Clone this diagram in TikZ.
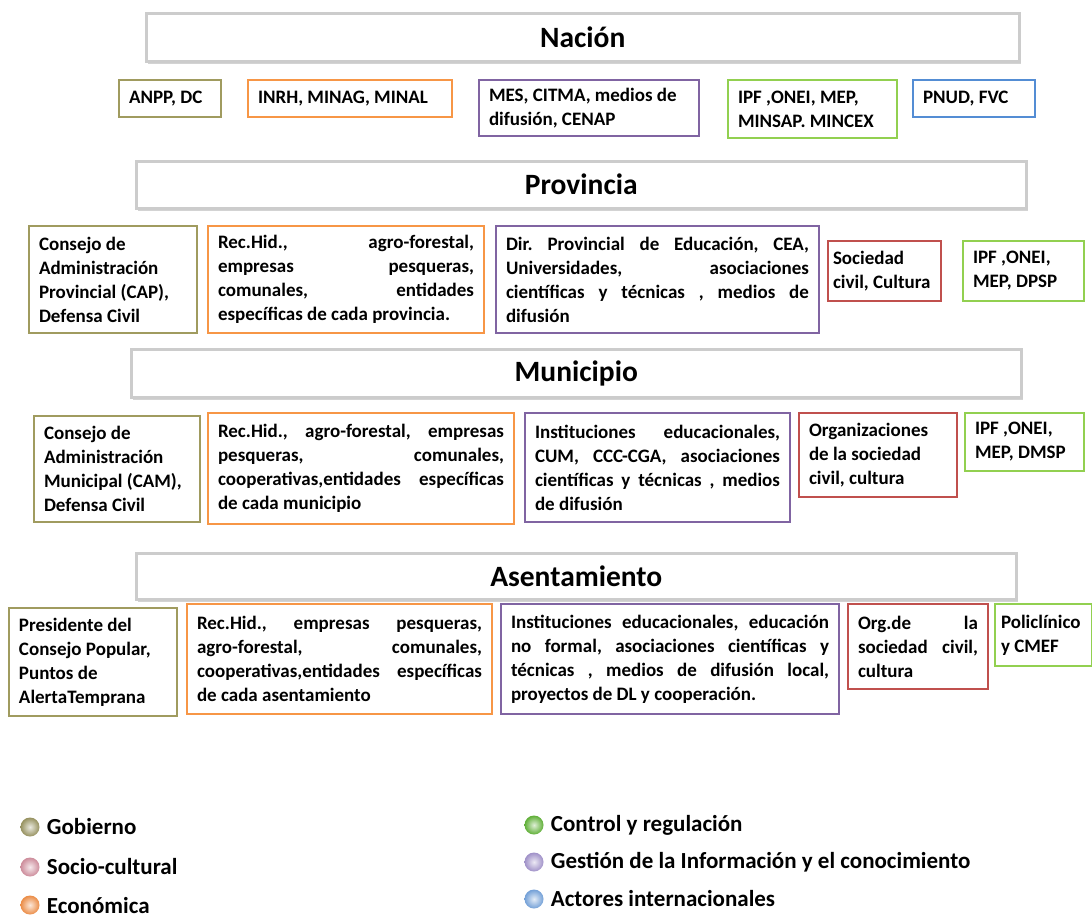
\documentclass[tikz,border=0pt]{standalone}
\usepackage{fontspec}
\setmainfont{Carlito}
\usepackage{tikz}
\usetikzlibrary{positioning,shadows}

\definecolor{gobcol}{RGB}{160,155,95}
\definecolor{ecocol}{RGB}{247,150,70}
\definecolor{infcol}{RGB}{128,100,162}
\definecolor{ctlcol}{RGB}{146,208,80}
\definecolor{intcol}{RGB}{84,141,212}
\definecolor{soccol}{RGB}{192,80,77}
\definecolor{gobball}{RGB}{150,145,95}
\definecolor{socball}{RGB}{205,140,155}
\definecolor{ecoball}{RGB}{235,140,70}
\definecolor{ctlball}{RGB}{95,175,55}
\definecolor{infball}{RGB}{160,145,200}
\definecolor{intball}{RGB}{115,160,215}

\hyphenpenalty=10000
\exhyphenpenalty=10000
\frenchspacing

\tikzset{
  bar/.style={draw=gray!40, line width=2.5pt, fill=white, anchor=north west, inner sep=0pt,
    drop shadow={shadow xshift=1.5pt, shadow yshift=-3pt, opacity=0.35},
    font=\fontsize{29.5}{32}\selectfont\bfseries},
  actor/.style={draw, line width=2pt, fill=white, anchor=north west, inner xsep=10pt, inner ysep=0pt,
    font=\fontsize{19}{24}\selectfont\bfseries,
    execute at begin node={\spaceskip=0pt\xspaceskip=0pt\relax}},
  boxsize/.style 2 args={text width=#1, minimum height=#2},
  gob/.style={actor, draw=gobcol},
  eco/.style={actor, draw=ecocol},
  inf/.style={actor, draw=infcol},
  ctl/.style={actor, draw=ctlcol},
  int/.style={actor, draw=intcol},
  soc/.style={actor, draw=soccol},
  ball/.style={circle, minimum size=19pt, inner sep=0pt, shading=radial},
  legend/.style={font=\fontsize{23}{26}\selectfont\bfseries, inner sep=0pt}
}

\begin{document}
\begin{tikzpicture}[x=1pt, y=-1pt]
  \useasboundingbox (0,0) rectangle (1092,919);

  % Nación
  \node[bar, minimum width=873pt, minimum height=48pt] (nacion) at (145,12) {Nación};
  \node[gob, boxsize={82pt}{37pt}, align=left] (n1) at (118,79) {ANPP, DC};
  \node[eco, boxsize={184pt}{37pt}, align=left] (n2) at (247,79) {INRH, MINAG, MINAL};
  \node[inf, boxsize={200pt}{56pt}, align=left] (n3) at (478,79) {MES, CITMA, medios de\\difusión, CENAP};
  \node[ctl, boxsize={149pt}{58pt}, align=left] (n4) at (727,79) {IPF ,ONEI, MEP,\\MINSAP. MINCEX};
  \node[int, boxsize={102pt}{37pt}, align=left] (n5) at (912,79) {PNUD, FVC};

  % Provincia
  \node[bar, minimum width=890pt, minimum height=47pt] (provincia) at (135,160) {Provincia};
  \node[gob, boxsize={148pt}{107pt}, align=left] (p1) at (28,225)
    {Consejo de\\Administración\\Provincial (CAP),\\Defensa Civil};
  \node[eco, boxsize={256pt}{107pt}, align=justify] (p2) at (207,225)
    {Rec.Hid., agro-forestal,\linebreak empresas pesqueras,\linebreak comunales, entidades\linebreak específicas de cada provincia.};
  \node[inf, boxsize={303pt}{107pt}, align=justify] (p3) at (495,225)
    {Dir. Provincial de Educación, CEA,\linebreak Universidades, asociaciones\linebreak científicas y técnicas , medios de\linebreak difusión};
  \node[soc, boxsize={103pt}{60pt}, inner xsep=5pt, align=left] (p4) at (827,240) {Sociedad\\civil, Cultura};
  \node[ctl, boxsize={101pt}{60pt}, align=left] (p5) at (962,240) {IPF ,ONEI,\\MEP, DPSP};

  % Municipio
  \node[bar, minimum width=890pt, minimum height=48pt] (municipio) at (130,348) {Municipio};
  \node[gob, boxsize={146pt}{106pt}, align=left] (m1) at (33,415)
    {Consejo de\\Administración\\Municipal (CAM),\\Defensa Civil};
  \node[eco, boxsize={286pt}{111pt}, align=justify] (m2) at (207,412)
    {Rec.Hid., agro-forestal, empresas\linebreak pesqueras, comunales,\linebreak cooperativas,entidades específicas\linebreak de cada municipio};
  \node[inf, boxsize={245pt}{109pt}, align=justify] (m3) at (524,412)
    {Instituciones educacionales,\linebreak CUM, CCC-CGA, asociaciones\linebreak científicas y técnicas , medios\linebreak de difusión};
  \node[soc, boxsize={138pt}{84pt}, align=left] (m4) at (798,412) {Organizaciones\\de la sociedad\\civil, cultura};
  \node[ctl, boxsize={99pt}{58pt}, align=left] (m5) at (964,412) {IPF ,ONEI,\\MEP, DMSP};

  % Asentamiento
  \node[bar, minimum width=880pt, minimum height=46pt] (asentamiento) at (135,552) {Asentamiento};
  \node[gob, boxsize={148pt}{108pt}, align=left] (a1) at (8,607)
    {Presidente del\\Consejo Popular,\\Puntos de\\AlertaTemprana};
  \node[eco, boxsize={285pt}{110pt}, align=justify] (a2) at (186,603)
    {Rec.Hid., empresas pesqueras,\linebreak agro-forestal, comunales,\linebreak cooperativas,entidades específicas\linebreak de cada asentamiento};
  \node[inf, boxsize={318pt}{110pt}, align=justify] (a3) at (500,603)
    {Instituciones educacionales, educación\linebreak no formal, asociaciones científicas y\linebreak técnicas , medios de difusión local,\linebreak proyectos de DL y cooperación.};
  \node[soc, boxsize={120pt}{85pt}, align=justify] (a4) at (847,603)
    {Org.de la\linebreak sociedad civil,\linebreak cultura};
  \node[ctl, boxsize={85pt}{62pt}, inner xsep=6pt, align=left] (a5) at (994,603) {Policlínico\\y CMEF};

  % Leyenda
  \foreach \name/\col/\x/\y/\txt in {lgob/gobball/30/827/Gobierno,
      lsoc/socball/30/867/Socio-cultural,
      leco/ecoball/30/905/Económica,
      lctl/ctlball/534/825/Control y regulación,
      linf/infball/534/862/Gestión de la Información y el conocimiento,
      lint/intball/534/899/Actores internacionales} {
    \node[ball, inner color=\col!20!white, outer color=\col] (\name) at (\x,\y) {};
    \node[legend, right=7pt of \name] (\name txt) {\txt};
  }
\end{tikzpicture}
\end{document}
